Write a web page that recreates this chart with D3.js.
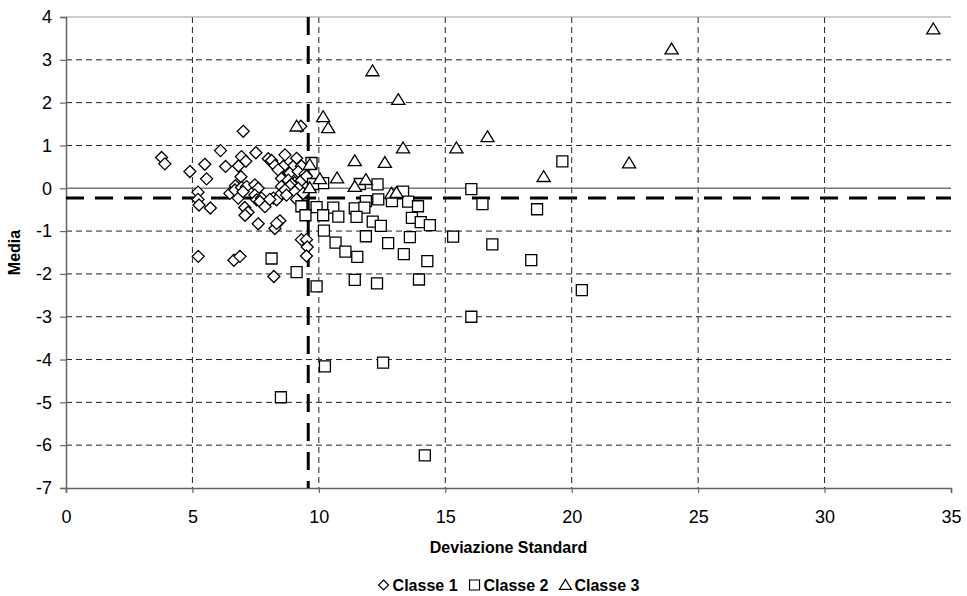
<!DOCTYPE html>
<html>
<head>
<meta charset="utf-8">
<script src="https://cdn.jsdelivr.net/npm/d3@7"></script>
<style>
  body { margin: 0; background: #fff; }
  svg { font-family: "Liberation Sans", Arial, sans-serif; }
</style>
</head>
<body>
<svg id="svg" width="967" height="596"></svg>
<script>
// Classe 1 (diamonds): [deviazione standard, media]
const classe1 = [
  [3.78, 0.72], [3.91, 0.57], [4.9, 0.39], [5.49, 0.56], [5.56, 0.22], [6.11, 0.88],
  [6.31, 0.51], [7.01, 1.33], [6.94, 0.74], [7.11, 0.63], [7.51, 0.83], [6.82, 0.52],
  [6.92, 0.27], [5.22, -0.09], [5.22, -0.26], [5.26, -0.39], [5.71, -0.46], [6.48, -0.12],
  [6.7, 0.06], [6.68, -0.04], [6.94, 0.02], [6.81, -0.23], [7.14, 0.04], [7.47, 0.08],
  [7.6, 0.0], [7.0, -0.08], [7.47, -0.16], [7.07, -0.45], [7.2, -0.56], [7.08, -0.63],
  [7.54, -0.27], [7.73, -0.23], [7.67, -0.31], [7.87, -0.43], [7.6, -0.83], [8.0, 0.69],
  [8.13, 0.65], [8.26, 0.53], [8.66, 0.78], [9.12, 0.7], [8.98, 0.51], [8.59, 0.51],
  [9.31, 0.52], [8.85, 0.35], [8.39, 0.43], [9.18, 0.39], [9.45, 0.33], [8.52, 0.23],
  [8.79, 0.19], [9.05, 0.13], [9.31, 0.18], [9.51, 0.28], [8.92, 0.1], [8.52, 0.04],
  [8.85, 0.05], [9.18, 0.0], [8.2, -0.23], [8.33, -0.27], [8.06, -0.26], [8.52, -0.12],
  [8.66, -0.04], [9.05, -0.08], [9.38, -0.12], [9.12, -0.26], [8.72, -0.16], [8.46, -0.76],
  [8.26, -0.94], [8.33, -0.82], [9.29, 1.45], [9.31, -1.2], [9.51, -1.2], [9.54, -1.37],
  [9.51, -1.58], [5.23, -1.59], [6.64, -1.68], [6.88, -1.59], [8.22, -2.06]
];

// Classe 2 (squares)
const classe2 = [
  [9.71, 0.59], [10.17, 0.12], [9.77, 0.1], [11.62, 0.1], [12.32, 0.09], [13.33, -0.08],
  [12.35, -0.26], [12.89, -0.3], [11.86, -0.3], [13.53, -0.31], [13.92, -0.42], [11.42, -0.47],
  [11.8, -0.45], [10.57, -0.45], [9.91, -0.44], [9.31, -0.42], [9.47, -0.63], [10.17, -0.63],
  [10.77, -0.66], [11.49, -0.67], [12.13, -0.78], [12.45, -0.88], [13.68, -0.69], [14.03, -0.79],
  [14.39, -0.86], [10.2, -0.99], [10.66, -1.27], [11.05, -1.48], [11.52, -1.6], [11.86, -1.12],
  [12.74, -1.28], [13.6, -1.14], [13.36, -1.54], [14.29, -1.7], [11.42, -2.14], [12.3, -2.22],
  [13.96, -2.13], [9.91, -2.29], [9.12, -1.96], [8.13, -1.64], [15.31, -1.13], [16.03, -0.02],
  [16.47, -0.37], [16.86, -1.31], [18.63, -0.49], [19.63, 0.63], [18.4, -1.68], [20.4, -2.38],
  [16.03, -3.0], [12.54, -4.07], [10.24, -4.16], [8.5, -4.88], [14.19, -6.24]
];

// Classe 3 (triangles)
const classe3 = [
  [9.12, 1.45], [10.17, 1.67], [10.37, 1.41], [11.42, 0.64], [9.64, 0.55], [10.04, 0.22],
  [10.72, 0.24], [9.64, 0.01], [11.42, 0.04], [11.86, 0.2], [12.61, 0.6], [12.12, 2.74],
  [13.14, 2.07], [13.33, 0.94], [15.44, 0.94], [16.67, 1.2], [18.89, 0.27], [22.27, 0.59],
  [23.95, 3.25], [34.3, 3.72], [12.87, -0.12], [13.07, -0.1]
];

const xTicks = [0, 5, 10, 15, 20, 25, 30, 35];
const yTicks = [4, 3, 2, 1, 0, -1, -2, -3, -4, -5, -6, -7];
const meanX = 9.58;   // linea verticale tratteggiata
const meanY = -0.23;  // linea orizzontale tratteggiata

const svg = d3.select("#svg");
const mLeft = 66, mRight = 951, mTop = 17, mBottom = 488;

const x = d3.scaleLinear().domain([0, 35]).range([mLeft, mRight]);
const y = d3.scaleLinear().domain([-7, 4]).range([mBottom, mTop]);

const grid = svg.append("g");

// gridlines
grid.selectAll(".hg")
    .data(yTicks.filter(d => d !== 4 && d !== 0 && d !== -7))
    .enter().append("line")
    .attr("x1", mLeft).attr("x2", mRight)
    .attr("y1", d => y(d)).attr("y2", d => y(d))
    .style("stroke", "#222")
    .style("stroke-width", 1)
    .style("stroke-dasharray", "6,4");

grid.selectAll(".vg")
    .data(xTicks.filter(d => d !== 0 && d !== 35))
    .enter().append("line")
    .attr("x1", d => x(d)).attr("x2", d => x(d))
    .attr("y1", mTop).attr("y2", mBottom)
    .style("stroke", "#222")
    .style("stroke-width", 1)
    .style("stroke-dasharray", "6,4");

// top border and zero line
grid.append("line")
    .attr("x1", mLeft).attr("x2", mRight)
    .attr("y1", y(4)).attr("y2", y(4))
    .style("stroke", "#999").style("stroke-width", 1);

grid.append("line")
    .attr("x1", mLeft).attr("x2", mRight)
    .attr("y1", y(0)).attr("y2", y(0))
    .style("stroke", "#777").style("stroke-width", 1.3);

// axes (plain hyphen for negatives, like the original)
const xAxis = d3.axisBottom(x).tickValues(xTicks).tickFormat(d => String(d))
    .tickSize(5).tickPadding(17);
const yAxis = d3.axisLeft(y).tickValues(yTicks).tickFormat(d => String(d))
    .tickSize(6).tickPadding(8);

const gx = svg.append("g").attr("transform", `translate(0,${mBottom})`).call(xAxis);
const gy = svg.append("g").attr("transform", `translate(${mLeft},0)`).call(yAxis);

[gx, gy].forEach(g => {
    g.select(".domain").style("stroke", "#666").style("stroke-width", 1.5);
    g.selectAll(".tick line").style("stroke", "#666").style("stroke-width", 1.2);
    g.selectAll(".tick text")
        .style("font-family", "Liberation Sans, Arial, sans-serif")
        .style("font-size", "18px")
        .style("fill", "#000");
});

// mean lines
svg.append("line")
    .attr("x1", x(meanX)).attr("x2", x(meanX))
    .attr("y1", mTop).attr("y2", mBottom)
    .style("stroke", "#000").style("stroke-width", 3)
    .style("stroke-dasharray", "18,11");

svg.append("line")
    .attr("x1", mLeft).attr("x2", mRight)
    .attr("y1", y(meanY)).attr("y2", y(meanY))
    .style("stroke", "#000").style("stroke-width", 3)
    .style("stroke-dasharray", "18,11");

// marker shapes
const shapes = {
    diamond: s => `M0,${-s}L${s},0L0,${s}L${-s},0Z`,
    square: s => `M${-s},${-s}H${s}V${s}H${-s}Z`,
    triangle: s => `M0,${-s}L${s * 1.1},${s * 0.8}L${-s * 1.1},${s * 0.8}Z`
};

function plot(data, shape, size) {
    svg.append("g").selectAll("path")
        .data(data)
        .enter().append("path")
        .attr("d", shapes[shape](size))
        .attr("transform", d => `translate(${x(d[0])},${y(d[1])})`)
        .style("fill", "#fff")
        .style("stroke", "#000")
        .style("stroke-width", 1.3);
}

plot(classe1, "diamond", 6);
plot(classe2, "square", 5.5);
plot(classe3, "triangle", 6);

// axis titles
svg.append("text")
    .attr("x", (mLeft + mRight) / 2).attr("y", 553)
    .attr("text-anchor", "middle")
    .style("font-size", "16px").style("font-weight", "bold")
    .text("Deviazione Standard");

svg.append("text")
    .attr("transform", `translate(20,${(mTop + mBottom) / 2})rotate(-90)`)
    .attr("text-anchor", "middle")
    .style("font-size", "16px").style("font-weight", "bold")
    .text("Media");

// legend
const legendItems = [
    { name: "Classe 1", shape: "diamond", size: 5 },
    { name: "Classe 2", shape: "square", size: 5 },
    { name: "Classe 3", shape: "triangle", size: 5.5 }
];
const legend = svg.append("g");
let lx = 0;
legendItems.forEach(item => {
    legend.append("path")
        .attr("d", shapes[item.shape](item.size))
        .attr("transform", `translate(${lx + 6},-6)`)
        .style("fill", "#fff").style("stroke", "#000").style("stroke-width", 1.2);
    const t = legend.append("text")
        .attr("x", lx + 15).attr("y", 0)
        .style("font-size", "16px").style("font-weight", "bold")
        .text(item.name);
    lx += 15 + t.node().getComputedTextLength() + 11;
});
lx -= 11;
legend.attr("transform", `translate(${(mLeft + mRight) / 2 - lx / 2},591)`);
</script>
</body>
</html>
